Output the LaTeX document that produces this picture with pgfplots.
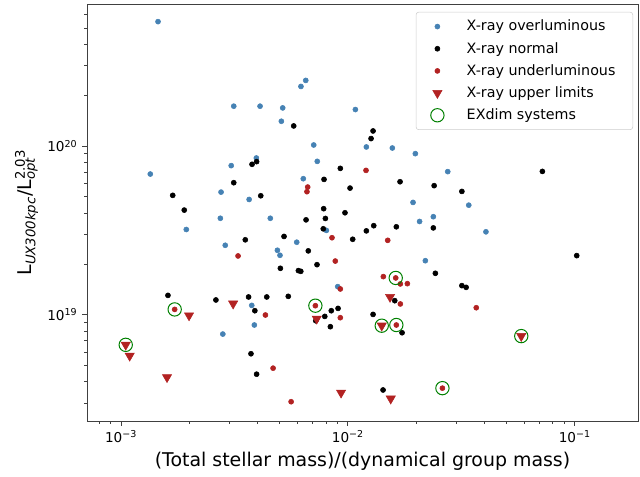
\documentclass[border=0pt]{standalone}
\usepackage{fontspec}
\setmainfont{DejaVu Sans}
\usepackage{pgfplots}
\pgfplotsset{compat=1.18}
\definecolor{cblue}{HTML}{4682B4}
\definecolor{cred}{HTML}{B22222}
\definecolor{cgreen}{HTML}{008000}

\begin{document}
\begin{tikzpicture}
\begin{axis}[
  xmode=log, ymode=log,
  width=413.25pt, height=312.75pt, scale only axis,
  xmin=7.08e-4, xmax=0.190, ymin=2.345e18, ymax=6.95e20,
  axis line style={black!75, line width=0.6pt},
  tick align=outside, xtick pos=bottom, ytick pos=left,
  major tick length=3.7pt, minor tick length=2.2pt,
  every tick/.style={black!75, line width=0.6pt},
  xtick={0.001,0.01,0.1},
  xticklabels={10\textsuperscript{−3},10\textsuperscript{−2},10\textsuperscript{−1}},
  minor xtick={8e-4,9e-4,2e-3,3e-3,4e-3,5e-3,6e-3,7e-3,8e-3,9e-3,2e-2,3e-2,4e-2,5e-2,6e-2,7e-2,8e-2,9e-2},
  ytick={1e19,1e20},
  yticklabels={10\textsuperscript{19},10\textsuperscript{20}},
  minor ytick={3e18,4e18,5e18,6e18,7e18,8e18,9e18,2e19,3e19,4e19,5e19,6e19,7e19,8e19,9e19,2e20,3e20,4e20,5e20,6e20},
  tick label style={font=\fontsize{10.2}{12}\selectfont},
  label style={font=\fontsize{14.2}{17}\selectfont},
  xlabel={(Total stellar mass)/(dynamical group mass)},
  ylabel={L\textsubscript{\itshape UX300kpc}/L\rlap{\textsubscript{\itshape opt}}\textsuperscript{2.03}},
  legend cell align=left,
  legend style={at={(0.991,0.981)}, anchor=north east, draw=black!20,
    rounded corners=2pt, font=\fontsize{10.7}{12.5}\selectfont,
    inner xsep=11pt, inner ysep=4pt, row sep=3pt,
    /tikz/every odd column/.append style={column sep=15pt}},
]
\addplot[only marks, mark=*, mark size=1.9pt, mark options={draw=cblue, fill=cblue}] coordinates {
(1.456e-3,5.46e20) (6.52e-3,2.448e20) (6.21e-3,2.254e20) (3.14e-3,1.722e20)
(4.10e-3,1.722e20) (5.16e-3,1.682e20) (1.079e-2,1.645e20) (5.09e-3,1.402e20)
(7.07e-3,1.014e20) (3.95e-3,8.49e19) (3.06e-3,7.65e19) (7.33e-3,8.11e19)
(1.346e-3,6.82e19) (6.36e-3,6.40e19) (2.76e-3,5.33e19) (3.67e-3,4.82e19)
(2.74e-3,3.73e19) (4.55e-3,3.73e19) (1.94e-3,3.20e19) (8.04e-3,3.16e19)
(2.88e-3,2.58e19) (5.95e-3,2.69e19) (4.89e-3,2.41e19) (5.02e-3,2.25e19)
(9.02e-3,1.467e19) (3.77e-3,1.136e19) (3.87e-3,8.69e18) (2.81e-3,7.68e18)
(1.206e-2,9.87e19) (1.570e-2,9.73e19) (1.983e-2,9.01e19) (2.755e-2,7.05e19)
(1.937e-2,4.63e19) (3.41e-2,4.46e19) (2.38e-2,3.81e19) (2.07e-2,3.57e19)
(4.06e-2,3.10e19) (2.195e-2,2.09e19)
};
\addlegendentry{X-ray overluminous}
\addplot[only marks, mark=*, mark size=1.9pt, mark options={draw=black, fill=black}] coordinates {
(5.77e-3,1.315e20) (3.78e-3,7.79e19) (3.96e-3,8.08e19) (9.26e-3,7.37e19)
(3.14e-3,6.06e19) (7.85e-3,6.34e19) (1.69e-3,5.10e19) (4.13e-3,5.07e19)
(1.022e-2,5.63e19) (1.90e-3,4.17e19) (7.82e-3,4.25e19) (9.71e-3,4.02e19)
(6.54e-3,3.65e19) (7.96e-3,3.72e19) (7.79e-3,3.23e19) (3.53e-3,2.78e19)
(1.050e-2,2.80e19) (5.23e-3,2.91e19) (6.69e-3,2.39e19) (7.31e-3,1.98e19)
(5.04e-3,1.884e19) (6.05e-3,1.826e19) (6.20e-3,1.808e19) (1.61e-3,1.302e19)
(2.62e-3,1.223e19) (3.65e-3,1.274e19) (4.39e-3,1.274e19) (5.46e-3,1.285e19)
(3.89e-3,1.056e19) (7.91e-3,9.77e18) (8.45e-3,1.056e19) (9.05e-3,1.090e19)
(7.22e-3,9.21e18) (8.37e-3,8.49e18) (3.74e-3,5.87e18) (3.96e-3,4.44e18)
(1.291e-2,1.228e20) (1.265e-2,1.107e20) (1.698e-2,6.14e19) (2.40e-2,5.82e19)
(3.18e-2,5.38e19) (7.20e-2,7.07e19) (1.206e-2,3.14e19) (1.300e-2,3.37e19)
(1.635e-2,3.32e19) (2.38e-2,3.27e19) (0.1020,2.24e19) (2.43e-2,1.760e19)
(3.18e-2,1.487e19) (3.32e-2,1.453e19) (1.609e-2,1.211e19) (1.291e-2,1.004e19)
(1.733e-2,7.82e18) (1.429e-2,3.58e18)
};
\addlegendentry{X-ray normal}
\addplot[only marks, mark=*, mark size=1.9pt, mark options={draw=cred, fill=cred}] coordinates {
(6.65e-3,5.71e19) (6.60e-3,5.36e19) (8.51e-3,2.86e19) (3.28e-3,2.23e19)
(8.80e-3,2.08e19) (9.26e-3,1.421e19) (4.33e-3,9.96e18) (9.26e-3,9.60e18)
(4.68e-3,4.82e18) (5.62e-3,3.05e18) (1.724e-3,1.075e19) (7.19e-3,1.131e19)
(1.202e-2,7.17e19) (1.498e-2,2.76e19) (1.433e-2,1.682e19) (1.625e-2,1.652e19)
(1.703e-2,1.522e19) (1.829e-2,1.528e19) (1.703e-2,1.158e19) (3.68e-2,1.100e19)
(1.635e-2,8.69e18) (2.61e-2,3.67e18)
};
\addlegendentry{X-ray underluminous}
\addplot[only marks, mark=triangle*, mark size=4pt, mark options={rotate=180, draw=cred, fill=cred}] coordinates {
(3.12e-3,1.163e19) (1.995e-3,9.90e18) (1.049e-3,6.63e18) (1.092e-3,5.71e18)
(1.595e-3,4.26e18) (7.29e-3,9.47e18) (9.33e-3,3.45e18) (1.534e-2,1.274e19)
(1.410e-2,8.61e18) (5.81e-2,7.47e18) (1.545e-2,3.18e18)
};
\addlegendentry{X-ray upper limits}
\addplot[only marks, mark=o, mark size=5pt, mark options={draw=cgreen, line width=0.75pt}] coordinates {
(1.724e-3,1.075e19) (7.19e-3,1.131e19) (1.625e-2,1.652e19) (1.635e-2,8.69e18)
(2.61e-2,3.67e18) (1.049e-3,6.63e18) (1.410e-2,8.61e18) (5.81e-2,7.47e18)
};
\addlegendentry{EXdim systems}
\end{axis}
\path ([shift={(-65.25pt,-41.25pt)}]current axis.south west) rectangle ([shift={(1.5pt,3pt)}]current axis.north east);
\end{tikzpicture}
\end{document}
